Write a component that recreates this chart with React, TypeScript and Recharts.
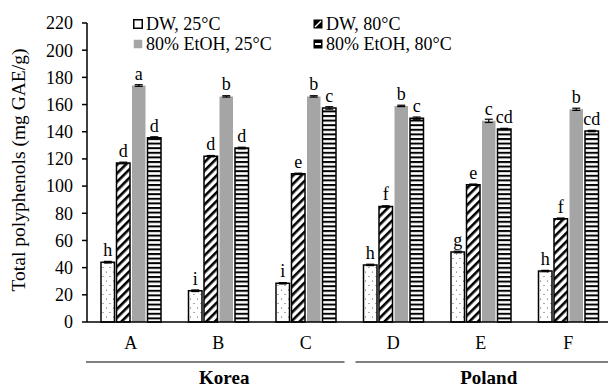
import { Bar, BarChart, ErrorBar, LabelList, XAxis, YAxis } from 'recharts'

const categories = ['A', 'B', 'C', 'D', 'E', 'F']
const regions = ['Korea', 'Korea', 'Korea', 'Poland', 'Poland', 'Poland']

const dw25 = [44, 23, 28.5, 42, 51.5, 37.5]
const dw80 = [117, 122, 109, 85, 101, 76]
const etoh25 = [174, 166, 166, 159, 148, 156.5]
const etoh80 = [135.5, 128, 157.5, 150, 142, 140.5]

const errDw25 = [0.6, 0.6, 0.5, 0.5, 0.6, 0.5]
const errDw80 = [0.6, 0.5, 0.5, 0.5, 0.5, 0.5]
const errEtoh25 = [0.6, 0.5, 0.5, 0.5, 1.2, 0.8]
const errEtoh80 = [0.8, 0.6, 0.9, 0.8, 0.5, 0.5]

const letDw25 = ['h', 'i', 'i', 'h', 'g', 'h']
const letDw80 = ['d', 'd', 'e', 'f', 'e', 'f']
const letEtoh25 = ['a', 'b', 'b', 'b', 'c', 'b']
const letEtoh80 = ['d', 'd', 'c', 'c', 'cd', 'cd']

const yTicks = [0, 20, 40, 60, 80, 100, 120, 140, 160, 180, 200, 220]

const seriesNames = ['DW, 25°C', 'DW, 80°C', '80% EtOH, 25°C', '80% EtOH, 80°C']

const data = categories.map((name, i) => ({
  name,
  region: regions[i],
  dw25: dw25[i],
  dw80: dw80[i],
  etoh25: etoh25[i],
  etoh80: etoh80[i],
  eDw25: errDw25[i],
  eDw80: errDw80[i],
  eEtoh25: errEtoh25[i],
  eEtoh80: errEtoh80[i],
  lDw25: letDw25[i],
  lDw80: letDw80[i],
  lEtoh25: letEtoh25[i],
  lEtoh80: letEtoh80[i],
}))

const font = '"Liberation Serif", "Times New Roman", serif'
const chartW = 612
const yAxisW = 87
const band = (chartW - yAxisW) / categories.length

const RegionTick = (props: any) => {
  const { x, y, index, payload } = props
  if (index % 3 !== 1) return null
  const first = index === 1
  const x1 = x - 1.5 * band + (first ? -1 : 6)
  const x2 = x + 1.5 * band - (first ? 5 : 0)
  return (
    <g>
      <line x1={x1} x2={x2} y1={y + 2} y2={y + 2} stroke="#000" strokeWidth={1} />
      <text x={x + (first ? 6 : 8)} y={y + 24} textAnchor="middle" fontFamily={font} fontWeight="bold" fontSize={19} fill="#000">
        {payload.value}
      </text>
    </g>
  )
}

const fills = ['url(#dots)', 'url(#diag)', '#a5a5a5', 'url(#hstripe)']

const LegendBox = () => (
  <div style={{ position: 'absolute', top: 14, left: 133, display: 'grid', gridTemplateColumns: '180px 180px', rowGap: 0, fontFamily: font, fontSize: 18, lineHeight: '20px', color: '#000' }}>
    {[0, 2, 1, 3].map((k, i) => (
      <div key={i} style={{ display: 'flex', alignItems: 'center', gap: 3, gridColumn: i < 2 ? 1 : 2, gridRow: (i % 2) + 1 }}>
        <svg width={10} height={10}>
          {k === 3 ? (
            <g>
              <rect x={0.5} y={0.5} width={9} height={9} fill="#000" />
              <rect x={2} y={4} width={6} height={2} fill="#fff" />
            </g>
          ) : k === 1 ? (
            <g>
              <rect x={0.5} y={0.5} width={9} height={9} fill="#000" />
              <line x1={2} y1={8} x2={8} y2={2} stroke="#fff" strokeWidth={1.5} />
            </g>
          ) : (
            <rect x={0.75} y={0.75} width={8.5} height={8.5} fill={k === 0 ? '#fff' : '#a5a5a5'} stroke={k === 0 ? '#000' : 'none'} strokeWidth={1.5} />
          )}
        </svg>
        <span>{seriesNames[k]}</span>
      </div>
    ))}
  </div>
)

const YLabel = () => (
  <text transform="translate(25, 170) rotate(-90)" textAnchor="middle" fontFamily={font} fontSize={19.5} fill="#000">
    Total polyphenols (mg GAE/g)
  </text>
)

const labelStyle = { fontFamily: font, fontSize: 18, fill: '#000' }

export default function App() {
  return (
    <div style={{ position: 'absolute', left: 0, top: 0, width: 608, height: 387, overflow: 'hidden', background: '#fff' }}>
      <svg width={0} height={0} style={{ position: 'absolute' }}>
        <defs>
          <pattern id="dots" patternUnits="userSpaceOnUse" width={7} height={9}>
            <rect width={7} height={9} fill="#fff" />
            <circle cx={1.5} cy={2} r={0.6} fill="#444" />
            <circle cx={5} cy={6.5} r={0.6} fill="#444" />
          </pattern>
          <pattern id="diag" patternUnits="userSpaceOnUse" width={6} height={6} patternTransform="rotate(45)">
            <rect width={6} height={6} fill="#fff" />
            <rect width={2.6} height={6} fill="#000" />
          </pattern>
          <pattern id="hstripe" patternUnits="userSpaceOnUse" width={4} height={4.6}>
            <rect width={4} height={4.6} fill="#fff" />
            <rect width={4} height={2} fill="#000" />
          </pattern>
        </defs>
      </svg>
      <BarChart width={chartW} height={387} data={data} margin={{ top: 23, right: 0, left: 0, bottom: 0 }} barGap={2} barSize={13.5}>
        <XAxis dataKey="name" xAxisId={0} tickLine={false} axisLine={{ stroke: '#000', strokeWidth: 1.5 }} tickMargin={8} height={30} tick={{ fill: '#000', fontSize: 18, fontFamily: font }} />
        <XAxis dataKey="region" xAxisId={1} tickLine={false} axisLine={false} height={35} tick={<RegionTick />} interval={0} />
        <YAxis
          width={yAxisW}
          domain={[0, 220]}
          ticks={yTicks}
          interval={0}
          tickSize={5}
          tickMargin={9}
          axisLine={{ stroke: '#000', strokeWidth: 1.5 }}
          tickLine={{ stroke: '#000', strokeWidth: 1.5 }}
          tick={{ fill: '#000', fontSize: 18, fontFamily: font }}
          label={<YLabel />}
        />
        <Bar dataKey="dw25" fill={fills[0]} stroke="#000" strokeWidth={1.5} isAnimationActive={false}>
          <ErrorBar dataKey="eDw25" width={4} stroke="#000" strokeWidth={1.2} />
          <LabelList dataKey="lDw25" position="top" offset={6} style={labelStyle} />
        </Bar>
        <Bar dataKey="dw80" fill={fills[1]} stroke="#000" strokeWidth={1.5} isAnimationActive={false}>
          <ErrorBar dataKey="eDw80" width={4} stroke="#000" strokeWidth={1.2} />
          <LabelList dataKey="lDw80" position="top" offset={6} style={labelStyle} />
        </Bar>
        <Bar dataKey="etoh25" fill={fills[2]} isAnimationActive={false}>
          <ErrorBar dataKey="eEtoh25" width={4} stroke="#000" strokeWidth={1.2} />
          <LabelList dataKey="lEtoh25" position="top" offset={6} style={labelStyle} />
        </Bar>
        <Bar dataKey="etoh80" fill={fills[3]} stroke="#000" strokeWidth={1.5} isAnimationActive={false}>
          <ErrorBar dataKey="eEtoh80" width={4} stroke="#000" strokeWidth={1.2} />
          <LabelList dataKey="lEtoh80" position="top" offset={6} style={labelStyle} />
        </Bar>
      </BarChart>
      <LegendBox />
    </div>
  )
}
